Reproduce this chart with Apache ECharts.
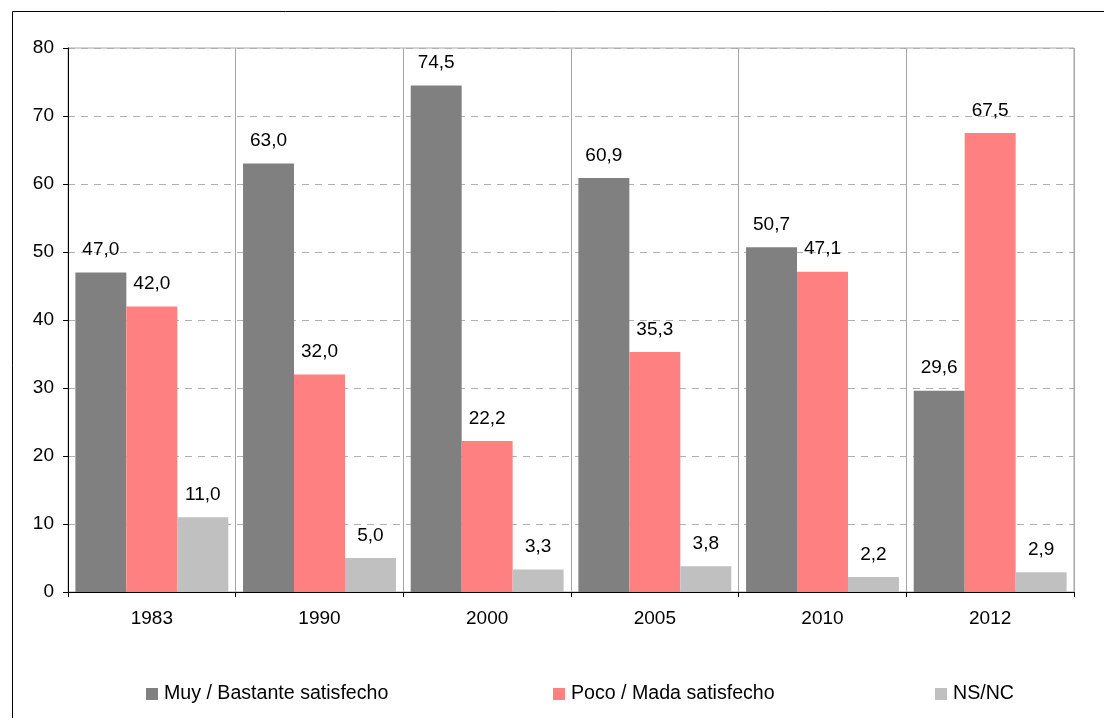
<!DOCTYPE html>
<html>
<head>
<meta charset="utf-8">
<script src="https://cdn.jsdelivr.net/npm/echarts@6/dist/echarts.min.js"></script>
<style>
  html, body { margin: 0; padding: 0; background: #fff; }
  #chart { width: 1104px; height: 718px; }
</style>
</head>
<body>
<div id="chart"></div>
<script>
// Survey years
const years = ['1983', '1990', '2000', '2005', '2010', '2012'];
// Share of respondents per answer (%)
const muyBastante = [47.0, 63.0, 74.5, 60.9, 50.7, 29.6];
const pocoNada = [42.0, 32.0, 22.2, 35.3, 47.1, 67.5];
const nsnc = [11.0, 5.0, 3.3, 3.8, 2.2, 2.9];
// Series names shown in the legend
const seriesNames = ['Muy / Bastante satisfecho', 'Poco / Mada satisfecho', 'NS/NC'];
const seriesColors = ['#808080', '#FF8080', '#C0C0C0'];
// Value axis ticks
const yMin = 0, yMax = 80, yStep = 10;

const FONT = "'Liberation Sans', Arial, sans-serif";
const fmt = v => v.toFixed(1).replace('.', ',');

const chart = echarts.init(document.getElementById('chart'), null, { renderer: 'canvas' });

function barSeries(name, data, color) {
  return {
    name: name,
    type: 'bar',
    data: data,
    barGap: '0%',
    barCategoryGap: '8.8%',
    itemStyle: { color: color },
    label: {
      show: true,
      position: 'top',
      distance: 13,
      color: '#000',
      fontSize: 19,
      fontFamily: FONT,
      formatter: p => fmt(p.value)
    },
    emphasis: { disabled: true }
  };
}

function legendAt(left, name) {
  return {
    data: [name],
    left: left,
    top: 679,
    icon: 'rect',
    itemWidth: 12,
    itemHeight: 12,
    itemGap: 5,
    textStyle: { color: '#000', fontSize: 19.6, fontFamily: FONT, padding: [0, 0, 0, 1] },
    selectedMode: false
  };
}

chart.setOption({
  animation: false,
  backgroundColor: '#fff',
  textStyle: { fontFamily: FONT },
  graphic: [{
    type: 'rect',
    shape: { x: 12.5, y: 11.5, width: 1200, height: 800 },
    style: { fill: 'none', stroke: '#000', lineWidth: 1 },
    silent: true,
    z: -1
  }],
  legend: [
    legendAt(141, seriesNames[0]),
    legendAt(548, seriesNames[1]),
    legendAt(930, seriesNames[2])
  ],
  grid: {
    left: 68, right: 30, top: 48, bottom: 126,
    show: true,
    borderColor: '#A6A6A6',
    borderWidth: 1,
    backgroundColor: 'transparent'
  },
  xAxis: {
    type: 'category',
    data: years,
    axisLine: { show: true, lineStyle: { color: '#000', width: 1 } },
    axisTick: { show: true, length: 5, lineStyle: { color: '#000' } },
    axisLabel: { color: '#000', fontSize: 19, fontFamily: FONT, margin: 17 },
    splitLine: { show: true, lineStyle: { color: '#A6A6A6', width: 1 } }
  },
  yAxis: {
    type: 'value',
    min: yMin, max: yMax, interval: yStep,
    axisLine: { show: true, lineStyle: { color: '#000', width: 1 } },
    axisTick: { show: true, length: 5, lineStyle: { color: '#000' } },
    axisLabel: { color: '#000', fontSize: 19, fontFamily: FONT, margin: 14 },
    splitLine: { show: true, lineStyle: { color: '#B0B0B0', width: 1, type: [7, 6] } }
  },
  series: [
    barSeries(seriesNames[0], muyBastante, seriesColors[0]),
    barSeries(seriesNames[1], pocoNada, seriesColors[1]),
    barSeries(seriesNames[2], nsnc, seriesColors[2])
  ]
});
</script>
</body>
</html>
